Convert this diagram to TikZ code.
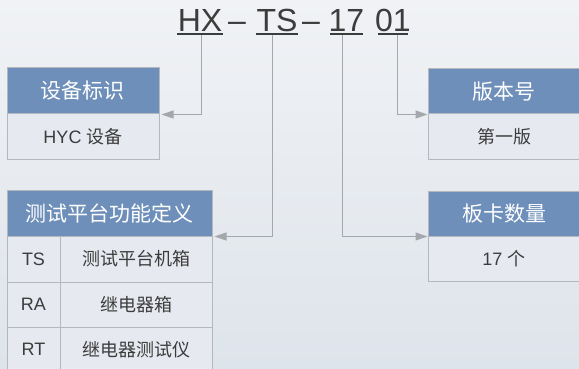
\documentclass[tikz,border=0pt]{standalone}
\usepackage{fontspec}
\setmainfont{Liberation Sans}
\newfontfamily\cjk{Noto Sans CJK SC}
\usetikzlibrary{arrows.meta}
\definecolor{bgA}{HTML}{F0F2F5}
\definecolor{bgB}{HTML}{DEE4EB}
\definecolor{hdr}{HTML}{6E8FB9}
\definecolor{bodyfill}{HTML}{E6EAF0}
\definecolor{frame}{HTML}{B4B7BB}
\definecolor{conn}{HTML}{A4A7AB}
\definecolor{ink}{HTML}{3C3C3C}
\tikzset{
  hdrbox/.style={draw=frame, line width=1pt, fill=hdr, text=white, inner sep=0pt, font=\fontsize{21}{21}\selectfont\cjk},
  bodybox/.style={draw=frame, line width=1pt, fill=bodyfill, text=ink, inner sep=0pt, font=\fontsize{18}{18}\selectfont},
  titletxt/.style={text=ink, inner sep=0pt, anchor=base, font=\fontsize{32}{32}\selectfont},
  uline/.style={draw=ink, line width=1.2pt},
  conline/.style={draw=conn, line width=1pt, -{Triangle[length=12pt,width=8pt]}}
}
\begin{document}
\begin{tikzpicture}[x=1pt,y=-1pt]
\useasboundingbox (0,0) rectangle (579,369);
\shade[left color=bgA, right color=bgB, shading angle=0] (0,0) rectangle (579,369);

% title
\node[titletxt] (hx) at (200,32) {HX};
\node[titletxt] (d1) at (237,32) {–};
\node[titletxt] (ts) at (277,32) {TS};
\node[titletxt] (d2) at (311,32) {–};
\node[titletxt] (n17) at (346.5,32) {17};
\node[titletxt] (n01) at (393,32) {01};
\draw[uline] (177,34) -- (223,34);
\draw[uline] (256,34) -- (298,34);
\draw[uline] (330,34) -- (363,34);
\draw[uline] (378,34) -- (408,34);
\coordinate (hxb) at (201,34.6);
\coordinate (tsb) at (272,34.6);
\coordinate (n17b) at (342,34.6);
\coordinate (n01b) at (397,34.6);

% box 1
\node[hdrbox, minimum width=152pt, minimum height=46pt] (b1h) at (83,91) {设备标识};
\node[bodybox, minimum width=152pt, minimum height=45pt] (b1b) at (83,136.5) {HYC {\cjk 设备}};

% box 3
\node[hdrbox, minimum width=152pt, minimum height=45pt] (b3h) at (504,91.5) {版本号};
\node[bodybox, minimum width=152pt, minimum height=45pt] (b3b) at (504,136.5) {\cjk 第一版};

% box 2
\node[hdrbox, minimum width=205pt, minimum height=46pt] (b2h) at (109.5,213) {测试平台功能定义};
\node[bodybox, minimum width=53pt, minimum height=46pt] (r1a) at (33.5,259) {TS};
\node[bodybox, minimum width=152pt, minimum height=46pt] (r1b) at (136,259) {\cjk 测试平台机箱};
\node[bodybox, minimum width=53pt, minimum height=45pt] (r2a) at (33.5,304.5) {RA};
\node[bodybox, minimum width=152pt, minimum height=45pt] (r2b) at (136,304.5) {\cjk 继电器箱};
\node[bodybox, minimum width=53pt, minimum height=45pt] (r3a) at (33.5,349.5) {RT};
\node[bodybox, minimum width=152pt, minimum height=45pt] (r3b) at (136,349.5) {\cjk 继电器测试仪};

% box 4
\node[hdrbox, minimum width=152pt, minimum height=45pt] (b4h) at (504,213.5) {板卡数量};
\node[bodybox, minimum width=152pt, minimum height=45pt] (b4b) at (504,258.5) {17 {\cjk 个}};

% connectors
\draw[conline] (hxb) |- ([xshift=2pt]b1h.south east);
\draw[conline] (tsb) |- ([xshift=2pt]b2h.south east);
\draw[conline] (n17b) |- (b4h.south west);
\draw[conline] (n01b) |- (b3h.south west);
\end{tikzpicture}
\end{document}
